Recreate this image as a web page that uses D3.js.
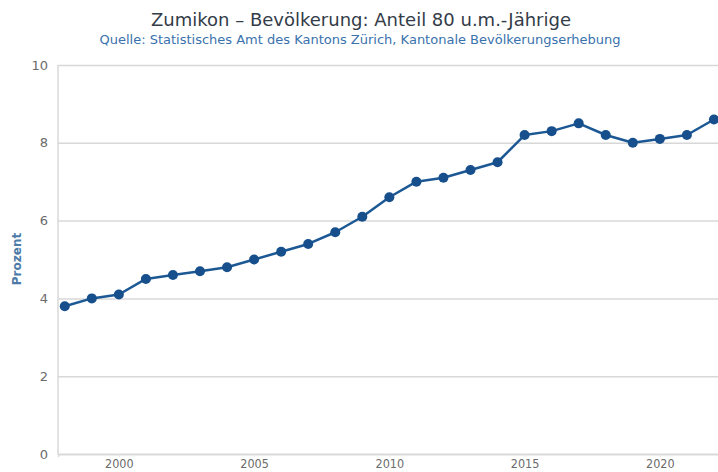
<!DOCTYPE html>
<html>
<head>
<meta charset="utf-8">
<script src="https://cdn.jsdelivr.net/npm/d3@7"></script>
<style>
  body { margin: 0; background: #fff; }
  svg { display: block; font-family: "DejaVu Sans", sans-serif; }
</style>
</head>
<body>
<div id="chart"></div>
<script>
// Zumikon, Anteil 80-und-mehr-Jährige in Prozent
var years = [1998, 1999, 2000, 2001, 2002, 2003, 2004, 2005, 2006, 2007, 2008, 2009,
             2010, 2011, 2012, 2013, 2014, 2015, 2016, 2017, 2018, 2019, 2020, 2021, 2022];
var shares = [3.8, 4.0, 4.1, 4.5, 4.6, 4.7, 4.8, 5.0, 5.2, 5.4, 5.7, 6.1,
              6.6, 7.0, 7.1, 7.3, 7.5, 8.2, 8.3, 8.5, 8.2, 8.0, 8.1, 8.2, 8.6];
var yTicks = [0, 2, 4, 6, 8, 10];
var xTicks = [2000, 2005, 2010, 2015, 2020];

var title = "Zumikon \u2013 Bev\u00f6lkerung: Anteil 80 u.m.-J\u00e4hrige";
var subtitle = "Quelle: Statistisches Amt des Kantons Z\u00fcrich, Kantonale Bev\u00f6lkerungserhebung";

var width = 718, height = 472;
var plotLeft = 58, plotRight = 718, plotTop = 65, plotBottom = 454;

var data = years.map(function(y, i) { return {year: y, value: shares[i]}; });

var svg = d3.select("#chart").append("svg")
  .attr("width", width)
  .attr("height", height);

var x = d3.scaleLinear()
  .domain([1997.75, 2022.15])
  .range([plotLeft, plotRight]);

var y = d3.scaleLinear()
  .domain([0, 10])
  .range([plotBottom, plotTop]);

//title and subtitle
svg.append("text")
  .attr("x", 361)
  .attr("y", 26)
  .attr("text-anchor", "middle")
  .style("font-size", "18px")
  .style("fill", "#333c48")
  .text(title);

svg.append("text")
  .attr("x", 360)
  .attr("y", 44)
  .attr("text-anchor", "middle")
  .style("font-size", "13px")
  .style("fill", "#3a72ad")
  .text(subtitle);

//grid lines
var yAxis = d3.axisLeft(y)
  .tickValues(yTicks)
  .tickSize(-(plotRight - plotLeft))
  .tickPadding(10)
  .tickFormat(d3.format("d"));

var gy = svg.append("g")
  .attr("transform", "translate(" + plotLeft + ",0)")
  .call(yAxis);
gy.select(".domain").remove();
gy.selectAll(".tick line")
  .attr("stroke", "#d8d8d8")
  .attr("stroke-width", 1.5);
gy.selectAll(".tick text")
  .style("font-size", "13px")
  .style("fill", "#6b6b6b")
  .style("font-family", "'DejaVu Sans', sans-serif");

//vertical axis line on the left
svg.append("line")
  .attr("x1", plotLeft).attr("x2", plotLeft)
  .attr("y1", plotTop).attr("y2", plotBottom)
  .attr("stroke", "#d8d8d8")
  .attr("stroke-width", 1.5);

//x axis
var xAxis = d3.axisBottom(x)
  .tickValues(xTicks)
  .tickSize(3)
  .tickPadding(2)
  .tickFormat(d3.format("d"));

var gx = svg.append("g")
  .attr("transform", "translate(0," + plotBottom + ")")
  .call(xAxis);
gx.select(".domain")
  .attr("stroke", "#d8d8d8")
  .attr("stroke-width", 1.5);
gx.selectAll(".tick line").attr("stroke", "#e4e4e4");
gx.selectAll(".tick text")
  .style("font-size", "12.5px")
  .style("fill", "#6b6b6b")
  .style("font-family", "'DejaVu Sans Condensed', 'DejaVu Sans', sans-serif");

//y axis title
svg.append("text")
  .attr("transform", "translate(21,259) rotate(-90)")
  .attr("text-anchor", "middle")
  .style("font-size", "12px")
  .style("font-weight", "bold")
  .style("fill", "#4d7aa8")
  .text("Prozent");

//line and markers
var line = d3.line()
  .x(function(d) { return x(d.year); })
  .y(function(d) { return y(d.value); });

svg.append("path")
  .datum(data)
  .attr("d", line)
  .attr("fill", "none")
  .attr("stroke", "#1c5894")
  .attr("stroke-width", 2.5)
  .attr("stroke-linejoin", "round");

svg.selectAll(".dot")
  .data(data)
  .enter()
  .append("circle")
  .attr("class", "dot")
  .attr("cx", function(d) { return x(d.year); })
  .attr("cy", function(d) { return y(d.value); })
  .attr("r", 5)
  .attr("fill", "#164f8c");
</script>
</body>
</html>
